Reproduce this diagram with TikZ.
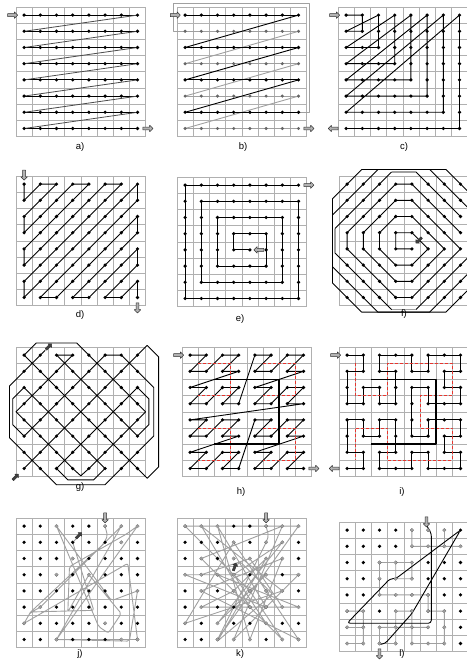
\documentclass[tikz,border=0pt]{standalone}
\usepackage{fontspec}
\setmainfont{Liberation Sans}
\usetikzlibrary{shapes.arrows}
\definecolor{gridgrey}{HTML}{B0B0B0}
\definecolor{pathgrey}{HTML}{A0A0A0}
\definecolor{visitgrey}{HTML}{9C9C9C}
\definecolor{levelred}{HTML}{E8352E}
\tikzset{
  every picture/.style={line join=round},
  panel/.style={shift={#1}, x=16.2pt, y=-16.2pt},
  cellline/.style={draw=gridgrey, line width=0.6pt},
  scan/.style={draw=black, line width=0.9pt},
  scanlight/.style={draw=pathgrey, line width=0.9pt},
  hop/.style={draw=black!70, line width=0.8pt},
  outerlink/.style={draw=pathgrey, line width=1.6pt},
  walk/.style={draw=pathgrey, line width=0.9pt, rounded corners=2pt},
  levelone/.style={draw=levelred, dash pattern=on 3pt off 2pt, line width=0.9pt},
  leveltwo/.style={draw=black, line width=1.6pt},
  blockarrow/.style={single arrow, draw=black!80, fill=black!30, line width=0.5pt, minimum width=6.5pt, minimum height=10pt, single arrow head extend=1.6pt, inner sep=1.1pt},
  smallarrow/.style={blockarrow, fill=black!75, minimum height=8pt, minimum width=5pt, inner sep=0.8pt, single arrow head extend=1.3pt},
  caption/.style={font=\fontsize{9.5}{11}\selectfont},
}
\newcommand{\drawgrid}{%
  \foreach \k in {0,...,8} {
    \draw[cellline] (\k-0.5,-0.5) -- (\k-0.5,7.5);
    \draw[cellline] (-0.5,\k-0.5) -- (7.5,\k-0.5);
  }}
\newcommand{\drawdots}{%
  \foreach \cc in {0,...,7} \foreach \rr in {0,...,7} \fill (\cc,\rr) circle (1.8pt);}

\begin{document}
\begin{tikzpicture}[x=1pt, y=-1pt]
  \useasboundingbox (0,0) rectangle (466,663);
  % a) row by row
  \begin{scope}[panel={(24.1,15.1)}]
    \drawgrid
    \foreach \rr in {0,...,7} \draw[scan] (0,\rr) -- (7,\rr);
    \foreach \rr in {1,...,7} \draw[hop] (7,\rr-1) -- (0,\rr);
    \drawdots
    \node[blockarrow] (a-in) at (-0.75,0) {};
    \node[blockarrow] (a-out) at (7.6,7) {};
  \end{scope}
  \node[caption] (a-cap) at (80,147) {a)};
  % b) interlaced
  \begin{scope}[panel={(185.1,15.1)}]
    \drawgrid
    \draw[scanlight] (7,6) -- (7.7,6) -- (7.7,-0.7) -- (-0.75,-0.7) -- (-0.75,1) -- (0,1);
    \foreach \rr in {1,3,5,7} \draw[scanlight] (0,\rr) -- (7,\rr);
    \foreach \rr in {1,3,5} \draw[scanlight] (7,\rr) -- (0,\rr+2);
    \foreach \rr in {0,2,4,6} \draw[scan] (0,\rr) -- (7,\rr);
    \foreach \rr in {0,2,4} \draw[scan] (7,\rr) -- (0,\rr+2);
    \foreach \cc in {0,...,7} {
      \foreach \rr in {0,2,4,6} \fill (\cc,\rr) circle (1.8pt);
      \foreach \rr in {1,3,5,7} \fill[black!60] (\cc,\rr) circle (1.7pt);
    }
    \node[blockarrow] (b-in) at (-0.65,0) {};
    \node[blockarrow] (b-out) at (7.6,7) {};
  \end{scope}
  \node[caption] (b-cap) at (243,147) {b)};
  % c) growing squares
  \begin{scope}[panel={(346.1,15.1)}]
    \drawgrid
    \draw[scan] (0,0) foreach \k in {1,...,7} { -- (\k,0) -- (\k,\k) -- (0,\k) };
    \drawdots
    \node[blockarrow] (c-in) at (-0.75,0) {};
    \node[blockarrow, rotate=180] (c-out) at (-0.75,7) {};
  \end{scope}
  \node[caption] (c-cap) at (404,147) {c)};
  % d) zigzag
  \begin{scope}[panel={(24.1,184.1)}]
    \drawgrid
    \draw[scan] (0,0) -- (0,1) -- (1,0) -- (2,0) -- (0,2) -- (0,3) -- (3,0) -- (4,0) -- (0,4) -- (0,5)
      -- (5,0) -- (6,0) -- (0,6) -- (0,7) -- (7,0) -- (7,1) -- (1,7) -- (2,7) -- (7,2) -- (7,3)
      -- (3,7) -- (4,7) -- (7,4) -- (7,5) -- (5,7) -- (6,7) -- (7,6) -- (7,7);
    \drawdots
    \node[blockarrow, rotate=-90] (d-in) at (0,-0.6) {};
    \node[blockarrow, rotate=-90] (d-out) at (7,7.6) {};
  \end{scope}
  \node[caption] (d-cap) at (80,315) {d)};
  % e) spiral
  \begin{scope}[panel={(185.1,185.1)}]
    \drawgrid
    \draw[scan] (4,4) -- (3,4) -- (3,3) -- (5,3) -- (5,5) -- (2,5) -- (2,2) -- (6,2) -- (6,6)
      -- (1,6) -- (1,1) -- (7,1) -- (7,7) -- (0,7) -- (0,0) -- (7,0);
    \drawdots
    \node[blockarrow, rotate=180] (e-in) at (4.6,4) {};
    \node[blockarrow] (e-out) at (7.6,0) {};
  \end{scope}
  \node[caption] (e-cap) at (240,319) {e)};
  % f) octagonal rings
  \begin{scope}[panel={(347.1,184.1)}]
    \drawgrid
    \draw[scan] (0,0) -- (0.9,-0.9) -- (6.1,-0.9) -- (7,0) -- (7.9,0.9) -- (7.9,6.1) -- (7,7) -- (6.1,7.9)
      -- (0.9,7.9) -- (0,7) -- (-0.9,6.1) -- (-0.9,0.9) -- cycle;
    \draw[scan] (1,0) -- (1.9,-0.9) -- (5.1,-0.9) -- (6,0) -- (7,1) -- (7.9,1.9) -- (7.9,5.1) -- (7,6) -- (6,7)
      -- (5.1,7.9) -- (1.9,7.9) -- (1,7) -- (0,6) -- (-0.9,5.1) -- (-0.9,1.9) -- (0,1) -- cycle;
    \draw[scan] (7,2) -- (6,1) -- (5,0) -- (4.25,-0.75);
    \draw[scan] (2.75,-0.75) -- (2,0) -- (1,1) -- (0,2) -- (-0.75,2.75);
    \draw[scan] (-0.75,4.25) -- (0,5) -- (1,6) -- (2,7) -- (2.75,7.75);
    \draw[scan] (4.25,7.75) -- (5,7) -- (6,6) -- (7,5) -- (7.75,4.25);
    \draw[outerlink] (4.25,-0.75) -- (2.75,-0.75);
    \draw[outerlink] (-0.75,2.75) -- (-0.75,4.25);
    \draw[outerlink] (2.75,7.75) -- (4.25,7.75);
    \draw[outerlink] (7.75,4.25) -- (7.75,2.75);
    \draw[scan] (7,3) -- (6,2) -- (5,1) -- (4,0) -- (3,0) -- (2,1) -- (1,2) -- (0,3) -- (0,4) -- (1,5) -- (2,6)
      -- (3,7) -- (4,7) -- (5,6) -- (6,5) -- (7,4)
      -- (6,3) -- (5,2) -- (4,1) -- (3,1) -- (2,2) -- (1,3) -- (1,4) -- (2,5) -- (3,6) -- (4,6) -- (5,5) -- (6,4)
      -- (5,3) -- (4,2) -- (3,2) -- (2,3) -- (2,4) -- (3,5) -- (4,5) -- (5,4)
      -- (4,3) -- (3,3) -- (3,4) -- (4,4);
    \drawdots
    \node[smallarrow, rotate=-135] (f-in) at (4.45,3.45) {};
  \end{scope}
  \node[caption] (f-cap) at (404,314) {f)};
  % g) crossing diagonals
  \begin{scope}[panel={(24.1,355.1)}]
    \drawgrid
    \draw[scan] (0,7) -- (7,0) -- (7.6,-0.6) -- (8.3,0.1) -- (8.3,6.9) -- (7.6,7.6) -- (7,7) -- (0,0)
      -- (0.75,-0.75) -- (3.25,-0.75) -- (4,0) -- (7,3) -- (7.5,3.5) -- (7,4) -- (4,7) -- (3.5,7.45) -- (3,7)
      -- (0,4) -- (-0.5,3.5) -- (0,3) -- (3,0) -- (2,0) -- (7,5) -- (7.7,4.3) -- (7.7,2.7) -- (7,2)
      -- (2,7) -- (2.7,7.7) -- (4.3,7.7) -- (5,7) -- (0,2) -- (-0.7,2.7) -- (-0.7,4.3) -- (0,5)
      -- (5,0) -- (6,0) -- (7,1) -- (8,2) -- (8,5) -- (7,6) -- (6,7) -- (5,8) -- (2,8) -- (1,7)
      -- (0,6) -- (-0.9,5.1) -- (-0.9,1.9) -- (0,1) -- (1,0) -- (1.3,-0.3);
    \drawdots
    \node[smallarrow, rotate=45] (g-in) at (-0.55,7.55) {};
    \node[smallarrow, rotate=45] (g-out) at (1.5,-0.5) {};
  \end{scope}
  \node[caption] (g-cap) at (80,487) {g)};
  % h) Z-order
  \begin{scope}[panel={(190.1,355.1)}]
    \drawgrid
    \draw[scan] (0,0) foreach \d [evaluate=\d as \mx using {int(mod(\d,2)+2*mod(int(\d/4),2)+4*mod(int(\d/16),2))},
                                 evaluate=\d as \my using {int(mod(int(\d/2),2)+2*mod(int(\d/8),2)+4*mod(int(\d/32),2))}]
                                 in {1,...,63} { -- (\mx,\my) };
    \foreach \qx/\qy in {0/0,4/0,0/4,4/4}
      \draw[levelone, shift={(\qx,\qy)}] (0.5,0.5) -- (2.5,0.5) -- (2.5,2.5) -- (0.5,2.5);
    \draw[leveltwo] (1.5,1.5) -- (5.5,1.5) -- (5.5,5.5) -- (1.5,5.5);
    \drawdots
    \node[blockarrow] (h-in) at (-0.75,0) {};
    \node[blockarrow] (h-out) at (7.6,7) {};
  \end{scope}
  \node[caption] (h-cap) at (241,492) {h)};
  % i) Hilbert
  \begin{scope}[panel={(347.1,355.1)}]
    \drawgrid
    \draw[scan] (0,0) foreach \p in {(1,0),(1,1),(0,1),(0,2),(0,3),(1,3),(1,2),(2,2),(2,3),(3,3),(3,2),(3,1),(2,1),(2,0),(3,0),
      (4,0),(4,1),(5,1),(5,0),(6,0),(7,0),(7,1),(6,1),(6,2),(7,2),(7,3),(6,3),(5,3),(5,2),(4,2),(4,3),
      (4,4),(4,5),(5,5),(5,4),(6,4),(7,4),(7,5),(6,5),(6,6),(7,6),(7,7),(6,7),(5,7),(5,6),(4,6),(4,7),
      (3,7),(2,7),(2,6),(3,6),(3,5),(3,4),(2,4),(2,5),(1,5),(1,4),(0,4),(0,5),(0,6),(1,6),(1,7),(0,7)} { -- \p };
    \draw[levelone] (0.5,0.5) -- (0.5,2.5) -- (2.5,2.5) -- (2.5,0.5) -- (6.5,0.5) -- (6.5,2.5) -- (4.5,2.5) -- (4.5,4.5)
      -- (6.5,4.5) -- (6.5,6.5) -- (2.5,6.5) -- (2.5,4.5) -- (0.5,4.5) -- (0.5,6.5);
    \draw[leveltwo] (1.5,1.5) -- (5.5,1.5) -- (5.5,5.5) -- (1.5,5.5);
    \drawdots
    \node[blockarrow] (i-in) at (-0.75,0) {};
    \node[blockarrow, rotate=180] (i-out) at (-0.75,7) {};
  \end{scope}
  \node[caption] (i-cap) at (402,492) {i)};
  % j) random walk, few visits
  \begin{scope}[panel={(24.1,526.1)}]
    \drawgrid
    \draw[walk] (5,0) -- (5.15,0.6) -- (4.9,1.1) -- (0.3,5.4) -- (1,5) -- (6,0) -- (2,7) -- (7,0) -- (6.3,0.5)
      -- (2.8,2.5) -- (2.7,5.3) -- (4,3) -- (6,5.4) -- (5.2,6.6) -- (4.6,6.2) -- (2,0) -- (5.4,4.6) -- (7,4)
      -- (6.5,7.1) -- (2,7) -- (7,7) -- (6.4,2.3) -- (0,6) -- (0.4,5.3) -- (4.3,5.2) -- (3,1) -- (3.2,0.8);
    \drawdots
    \foreach \p in {(5,0),(6,0),(7,0),(2,0),(6,1),(3,2),(2,3),(4,3),(7,4),(1,5),(0,6),(5,6),(2,7),(6,7),(7,7)}
      \fill[visitgrey] \p circle (1.9pt);
    \node[blockarrow, rotate=-90] (j-in) at (5,-0.55) {};
    \node[smallarrow, rotate=45] (j-out) at (3.35,0.6) {};
  \end{scope}
  \node[caption] (j-cap) at (80,654) {j)};
  % k) random walk, many visits
  \begin{scope}[panel={(185.1,526.1)}]
    \drawgrid
    \draw[walk] (5,0) -- (5.15,0.6) -- (5,1) -- (2,7) -- (7,0) -- (0,0) -- (4,4) -- (6,7) -- (1,2) -- (6,0)
      -- (3,7) -- (7,3) -- (0,3) -- (5,5) -- (2,0) -- (4,7) -- (6,2) -- (1,4) -- (7,7) -- (3,1) -- (0,6)
      -- (6,4) -- (1,0) -- (4,5) -- (7,5) -- (2,3) -- (5,6) -- (3,3) -- (6,1) -- (2,6) -- (5,3) -- (1,3)
      -- (4,2) -- (6,5) -- (1,5) -- (3,4) -- (5,2) -- (2,7.1) -- (5.4,4.2) -- (3.4,2.2) -- (3.1,2.5);
    \drawdots
    \foreach \p in {(0,0),(1,0),(2,0),(5,0),(6,0),(7,0),(3,1),(5,1),(6,1),(1,2),(3,2),(4,2),(5,2),(6,2),
      (0,3),(1,3),(2,3),(3,3),(5,3),(7,3),(1,4),(3,4),(4,4),(5,4),(6,4),(1,5),(4,5),(5,5),(6,5),(7,5),
      (0,6),(2,6),(5,6),(2,7),(3,7),(4,7),(6,7),(7,7)}
      \fill[visitgrey] \p circle (1.9pt);
    \node[blockarrow, rotate=-90] (k-in) at (5,-0.55) {};
    \node[smallarrow, rotate=70] (k-out) at (3.05,2.55) {};
  \end{scope}
  \node[caption] (k-cap) at (240,654) {k)};
  % l) partial scan
  \begin{scope}[panel={(347.1,530.1)}]
    \drawgrid
    \draw[walk] (4,0) -- (4,1) -- (7,1);
    \draw[walk] (6,0) -- (6,1);
    \draw[walk] (4,2) -- (2,2) -- (2,4) -- (5,4) -- (5,5) -- (6,5) -- (6,7) -- (4,7) -- (4,5) -- (3,5) -- (3,7) -- (2,7) -- (2,6) -- (5,6);
    \draw[walk] (3,2) -- (3,3) -- (4,3) -- (4,2);
    \draw[walk] (0,5) -- (1,5) -- (1,7) -- (0,7);
    \draw[walk] (0,6) -- (1,6);
    \draw[scan, rounded corners=3pt] (4.9,-0.3) -- (5.2,0.2) -- (5.2,5.75) -- (0,5.75) -- (2.65,3) -- (3,3) -- (7,0)
      -- (4,5.15) -- (2.35,7) -- (2.05,7.05);
    \drawdots
    \foreach \p in {(4,0),(5,0),(6,0),(4,1),(5,1),(6,1),(7,1),(2,2),(3,2),(4,2),(2,3),(3,3),(4,3),
      (2,4),(3,4),(4,4),(5,4),(0,5),(1,5),(3,5),(4,5),(5,5),(6,5),
      (0,6),(1,6),(2,6),(3,6),(4,6),(5,6),(6,6),(0,7),(1,7),(2,7),(3,7),(4,7),(5,7),(6,7)}
      \fill[visitgrey] \p circle (1.9pt);
    \node[blockarrow, rotate=-90] (l-in) at (4.9,-0.55) {};
    \node[blockarrow, rotate=-90] (l-out) at (2,7.6) {};
  \end{scope}
  \node[caption] (l-cap) at (402,654) {l)};
\end{tikzpicture}
\end{document}
